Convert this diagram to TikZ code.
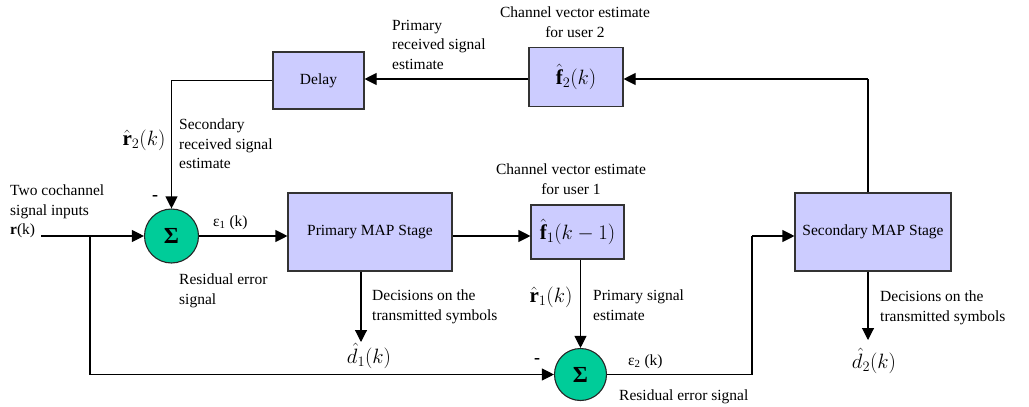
\documentclass[tikz,border=0pt]{standalone}
\usepackage{fontspec}
\setmainfont{Liberation Serif}
\usetikzlibrary{arrows.meta}
\definecolor{boxfill}{RGB}{204,204,255}
\definecolor{sumfill}{RGB}{0,204,153}
\begin{document}
\begin{tikzpicture}[x=1pt,y=-1pt,
  font=\fontsize{15.5}{19.5}\selectfont,
  blk/.style 2 args={draw=black!80, line width=1.1pt, fill=boxfill,
    minimum width=#1, minimum height=#2, inner sep=0pt},
  sum/.style={circle, draw=black!85, line width=1.1pt, fill=sumfill,
    minimum size=#1, inner sep=0pt, font=\fontsize{23}{23}\selectfont\bfseries},
  arr/.style={line width=1.1pt, -{Triangle[length=12pt,width=12pt]}},
  wire/.style={line width=1.1pt},
  lbl/.style={inner sep=0pt, align=left, anchor=north west},
  mth/.style={inner sep=0pt, font=\fontsize{21}{21}\selectfont},
  sgn/.style={inner sep=0pt, font=\fontsize{18}{18}\selectfont\bfseries}]
\useasboundingbox (0,0) rectangle (1029,407);

% blocks
\node[blk={91pt}{57pt}] (delay) at (318.5,80.5) {Delay};
\node[blk={94pt}{59pt}] (f2) at (576,77) {\fontsize{21}{21}\selectfont$\hat{\mathbf{f}}_2(k)$};
\node[blk={164pt}{78pt}] (pmap) at (370,232) {Primary MAP Stage};
\node[blk={93pt}{54pt}] (f1) at (577.5,232) {\fontsize{21}{21}\selectfont$\hat{\mathbf{f}}_1(k-1)$};
\node[blk={156pt}{78pt}] (smap) at (873,232) {Secondary MAP Stage};

% summing junctions
\node[sum=54pt] (s1) at (171.5,236) {Σ};
\node[sum=52pt] (s2) at (580.5,374.5) {Σ};

% helper points
\coordinate (in) at (41,236);
\coordinate (br) at (90,236);
\coordinate (d1tip) at (361,342);
\coordinate (jog) at (752,236);
\coordinate (up) at (868,79);
\coordinate (d2tip) at (868,340);

% connectors
\draw[arr] (f2.west |- up) -- (delay.east |- up);
\draw[arr] (delay.west) -| (s1.north);
\draw[arr] (in) -- (s1.west);
\draw[arr] (br) |- (s2.west);
\draw[arr] (s1.east) -- (s1.east -| pmap.west);
\draw[arr] (pmap.east |- s1.east) -- (f1.west |- s1.east);
\draw[arr] (d1tip |- pmap.south) -- (d1tip);
\draw[arr] (s2.north |- f1.south) -- (s2.north);
\draw[wire] (s2.east) -| (jog);
\draw[arr] (jog) -- (smap.west |- jog);
\draw[wire] (smap.north -| up) -- (up);
\draw[arr] (up) -- (f2.east |- up);
\draw[arr] (smap.south -| d2tip) -- (d2tip);

% labels
\node[lbl] (tin) at (10,185) {Two cochannel\\signal inputs\\\textbf{r}(k)};
\node[sgn] (m1) at (155,198) {-};
\node[inner sep=0pt, anchor=west] (e1) at (213,223) {ε\textsubscript{1} (k)};
\node[lbl] (res1) at (179,274) {Residual error\\signal};
\node[lbl] (dec1) at (372,290) {Decisions on the\\transmitted symbols};
\node[mth] (d1) at (369,356) {$\hat{d}_1(k)$};
\node[lbl] (prs) at (392,20) {Primary\\received signal\\estimate};
\node[inner sep=0pt, align=center, anchor=north] (cv2) at (575,7) {Channel vector estimate\\for user 2};
\node[lbl] (srs) at (179,119) {Secondary\\received signal\\estimate};
\node[mth] (r2) at (144,140) {$\hat{\mathbf{r}}_2(k)$};
\node[inner sep=0pt, align=center, anchor=north] (cv1) at (571,164) {Channel vector estimate\\for user 1};
\node[mth] (r1) at (551,297) {$\hat{\mathbf{r}}_1(k)$};
\node[lbl] (pse) at (593,290) {Primary signal\\estimate};
\node[sgn] (m2) at (537,361) {-};
\node[inner sep=0pt, anchor=west] (e2) at (628,362) {ε\textsubscript{2} (k)};
\node[inner sep=0pt, anchor=west] (res2) at (619,397) {Residual error signal};
\node[lbl] (dec2) at (880,291) {Decisions on the\\transmitted symbols};
\node[mth] (d2) at (874,361) {$\hat{d}_2(k)$};
\end{tikzpicture}
\end{document}
